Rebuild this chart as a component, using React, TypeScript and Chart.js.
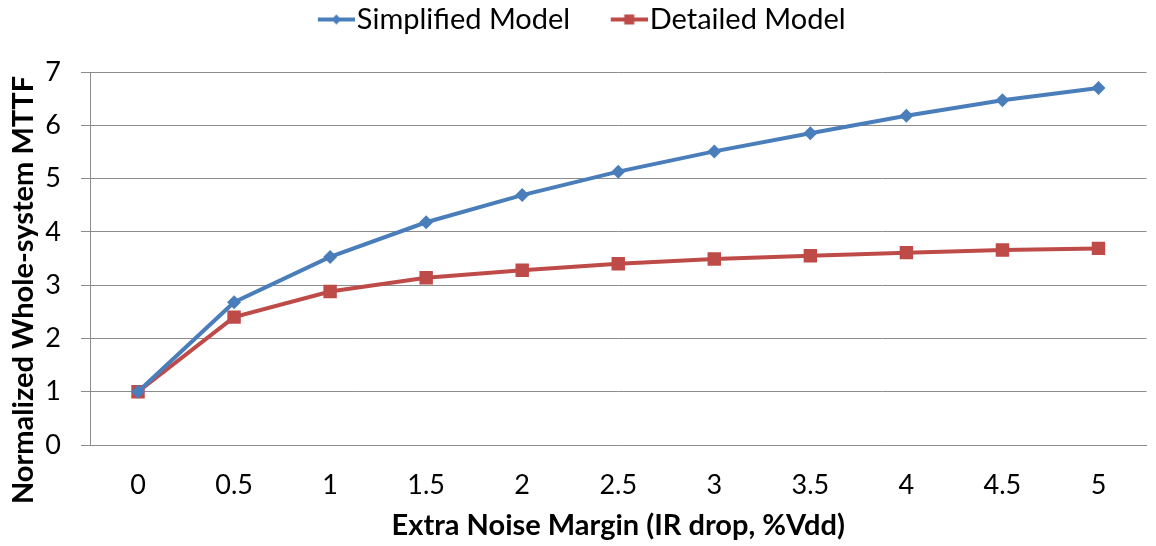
import React, { useEffect, useRef } from 'react';
import { Chart, registerables } from 'chart.js';

Chart.register(...registerables);

const categories = ['0', '0.5', '1', '1.5', '2', '2.5', '3', '3.5', '4', '4.5', '5'];
const simplifiedModel = [1, 2.68, 3.53, 4.18, 4.69, 5.13, 5.51, 5.85, 6.18, 6.47, 6.7];
const detailedModel = [1, 2.4, 2.88, 3.14, 3.28, 3.4, 3.49, 3.55, 3.61, 3.66, 3.69];
const yMin = 0;
const yMax = 7;
const yStep = 1;
const seriesNames = ['Simplified Model', 'Detailed Model'];
const xTitle = 'Extra Noise Margin (IR drop, %Vdd)';
const yTitle = 'Normalized Whole-system MTTF';

const BLUE = '#4A7EBB';
const RED = '#BE4B48';
const GRID = '#8c8c8c';
const FONT = 'Lato, "Open Sans", sans-serif';

function makeLegendIcon(color: string, style: 'diamond' | 'square') {
  const c = document.createElement('canvas');
  c.width = 85;
  c.height = 20;
  const ctx = c.getContext('2d')!;
  ctx.strokeStyle = color;
  ctx.lineWidth = 4;
  ctx.beginPath();
  ctx.moveTo(48, 10);
  ctx.lineTo(85, 10);
  ctx.stroke();
  ctx.fillStyle = color;
  const cx = 66.5;
  if (style === 'diamond') {
    ctx.beginPath();
    ctx.moveTo(cx, 5);
    ctx.lineTo(cx + 5, 10);
    ctx.lineTo(cx, 15);
    ctx.lineTo(cx - 5, 10);
    ctx.closePath();
    ctx.fill();
  } else {
    ctx.fillRect(cx - 5, 5, 10, 10);
  }
  return c;
}

const yTitlePlugin = {
  id: 'yTitlePlugin',
  beforeLayout(chart: any) {
    const lg = chart.legend;
    if (lg && !lg.__patched) {
      lg.__patched = true;
      const origFit = lg.fit.bind(lg);
      lg.fit = function () {
        origFit();
        this.height = 72;
      };
      const origDraw = lg.draw.bind(lg);
      lg.draw = function () {
        this.ctx.save();
        this.ctx.translate(-14, 0);
        origDraw();
        this.ctx.restore();
      };
    }
  },
  afterDraw(chart: any) {
    const ctx = chart.ctx;
    ctx.save();
    ctx.translate(24, 290);
    ctx.rotate(-Math.PI / 2);
    ctx.font = `bold 29px ${FONT}`;
    ctx.fillStyle = '#000';
    ctx.textAlign = 'center';
    ctx.textBaseline = 'middle';
    ctx.fillText(yTitle, 0, 0);
    ctx.restore();
  },
};

export default function App() {
  const ref = useRef<HTMLCanvasElement | null>(null);

  useEffect(() => {
    document.body.style.margin = '0';
    const blueIcon = makeLegendIcon(BLUE, 'diamond');
    const redIcon = makeLegendIcon(RED, 'square');
    const chart = new Chart(ref.current!, {
      type: 'line',
      data: {
        labels: categories,
        datasets: [
          {
            label: seriesNames[0],
            data: simplifiedModel,
            borderColor: BLUE,
            backgroundColor: BLUE,
            borderWidth: 4,
            pointStyle: 'rectRot',
            pointRadius: 7,
            pointHoverRadius: 7,
            pointBorderWidth: 0,
            tension: 0,
          },
          {
            label: seriesNames[1],
            data: detailedModel,
            borderColor: RED,
            backgroundColor: RED,
            borderWidth: 4,
            pointStyle: 'rect',
            pointRadius: 9.5,
            pointHoverRadius: 9.5,
            pointBorderWidth: 0,
            tension: 0,
          },
        ],
      },
      options: {
        responsive: false,
        animation: false,
        events: [],
        layout: { padding: 0 },
        plugins: {
          tooltip: { enabled: false },
          legend: {
            position: 'top',
            labels: {
              usePointStyle: true,
              pointStyleWidth: 60,
              padding: 5,
              color: '#000',
              font: { family: FONT, size: 29 },
              generateLabels: () => [
                { text: seriesNames[0], pointStyle: blueIcon as any, fillStyle: BLUE, strokeStyle: BLUE, lineWidth: 0, hidden: false, datasetIndex: 0 },
                { text: seriesNames[1], pointStyle: redIcon as any, fillStyle: RED, strokeStyle: RED, lineWidth: 0, hidden: false, datasetIndex: 1 },
              ],
            },
          },
        },
        scales: {
          x: {
            type: 'category',
            offset: true,
            grid: { display: false, drawTicks: false },
            border: { display: true, color: GRID, width: 1 },
            ticks: { color: '#000', padding: 24, font: { family: FONT, size: 27 }, maxRotation: 0 },
            title: {
              display: true,
              text: xTitle,
              color: '#000',
              font: { family: FONT, size: 29, weight: 'bold' },
              padding: { top: 0, bottom: 3 },
            },
            afterFit: (s: any) => {
              s.height = 101;
              s.paddingLeft = 0;
              s.paddingRight = 0;
            },
          },
          y: {
            min: yMin,
            max: yMax,
            ticks: { stepSize: yStep, color: '#000', padding: 20, font: { family: FONT, size: 27 } },
            grid: { color: GRID, lineWidth: 1, tickLength: 9, drawTicks: true },
            border: { display: true, color: GRID, width: 1 },
            afterFit: (s: any) => {
              s.width = 90;
              s.paddingTop = 0;
              s.paddingBottom = 0;
            },
          },
        },
      },
      plugins: [yTitlePlugin],
    });
    return () => chart.destroy();
  }, []);

  return (
    <div style={{ position: 'absolute', left: 0, top: 0, width: 1156, height: 546 }}>
      <canvas ref={ref} width={1156} height={546} />
    </div>
  );
}
